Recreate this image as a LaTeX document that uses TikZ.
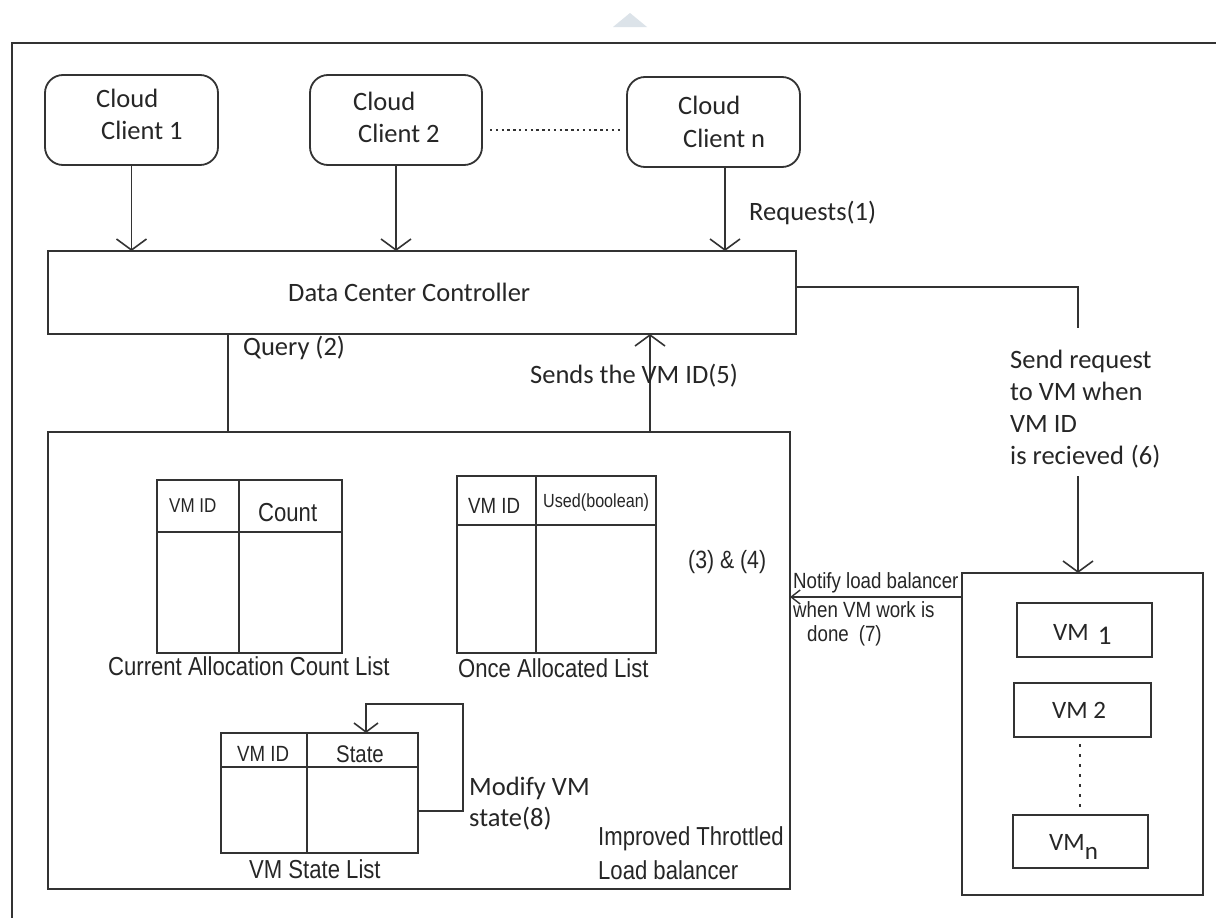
\documentclass[tikz,border=0pt]{standalone}
\usepackage{fontspec}
\setmainfont{Carlito}
\newfontfamily\arn[FakeStretch=0.85]{Liberation Sans}
\usetikzlibrary{arrows.meta,calc}
\definecolor{trigray}{RGB}{220,227,233}
\newcommand\bnode[6]{\node[#6,minimum width={#4-#2},minimum height={#5-#3}] (#1) at ({(#2+#4)/2},{(#3+#5)/2}) {};}
\begin{document}
\begin{tikzpicture}[x=1pt,y=-1pt,
 ln/.style={draw=black!80,line width=1.8pt},
 bx/.style={ln,rectangle,inner sep=0pt,outer sep=0pt,fill=white},
 cbox/.style={bx,rounded corners=18pt},
 arr/.style={ln,-{Straight Barb[width=30pt,length=11pt,line width=1.6pt]}},
 arrsm/.style={ln,-{Straight Barb[width=24pt,length=9pt,line width=1.6pt]}},
 arrxs/.style={ln,-{Straight Barb[width=14pt,length=9pt,line width=1.4pt]}},
 dots/.style={draw=black!80,line width=2.4pt,dash pattern=on 2.4pt off 3.4pt},
 vdots/.style={draw=black!80,line width=2.6pt,dash pattern=on 2.6pt off 7.4pt},
 cal/.style={inner sep=0pt,anchor=base west,text=black!85,font=\fontsize{26.5}{31}\selectfont},
 calv/.style={inner sep=0pt,anchor=base west,text=black!85,font=\fontsize{25}{30}\selectfont},
 ari/.style={inner sep=0pt,anchor=base west,text=black!85,font=\arn\fontsize{#1}{#1}\selectfont}
]
\useasboundingbox[fill=white] (0,0) rectangle (1216,918);
% top marker and outer frame
\fill[trigray] (613,27) -- (630,13) -- (647,27) -- cycle;
\draw[ln] (12,918) -- (12,43) -- (1216,43);

% clients
\bnode{c1}{45}{75}{218}{165}{cbox}
\bnode{c2}{310}{75}{482}{165}{cbox}
\bnode{cn}{627}{77}{800}{167}{cbox}
\node[cal] at (96,107) {Cloud};
\node[cal] at (101,139) {Client 1};
\node[cal] at (353,110) {Cloud};
\node[cal] at (358,142) {Client 2};
\node[cal] at (678,114) {Cloud};
\node[cal] at (683,147) {Client n};
\coordinate (dl) at (490,130);
\coordinate (dr) at (623,130);
\draw[dots] (c2.east |- dl) ++(8,0) -- (dr);

% data center controller
\bnode{dcc}{48}{251}{796}{334}{bx}
\node[cal] at (288,301) {Data Center Controller};
\coordinate (cnx) at (725,0);
\draw[arr] (c1.south) -- (c1.south |- dcc.north);
\draw[arr] (c2.south) -- (c2.south |- dcc.north);
\draw[arr] (cn.south -| cnx) -- (dcc.north -| cnx);
\node[cal] at (749,220) {Requests(1)};

% load balancer
\bnode{lb}{48}{432}{790}{889}{bx}
\coordinate (qx) at (228,0);
\coordinate (sx) at (650,0);
\draw[ln] (dcc.south -| qx) -- (lb.north -| qx);
\draw[arr] (lb.north -| sx) -- (dcc.south -| sx);
\node[cal] at (243,355) {Query (2)};
\node[cal] at (530,383) {Sends the VM ID(5)};

% table 1
\bnode{t1}{157}{480}{342}{653}{bx}
\draw[ln] (t1.west |- 0,532) -- (t1.east |- 0,532);
\draw[ln] (239,0 |- t1.north) -- (239,0 |- t1.south);
\node[ari=20] at (169,512) {VM ID};
\node[ari=26] at (258,521) {Count};
\node[ari=26] at (108,675) {Current Allocation Count List};

% table 2
\bnode{t2}{457}{476}{656}{653}{bx}
\draw[ln] (t2.west |- 0,525) -- (t2.east |- 0,525);
\draw[ln] (536,0 |- t2.north) -- (536,0 |- t2.south);
\node[ari=22] at (468,513) {VM ID};
\node[ari=19] at (543,507) {Used(boolean)};
\node[ari=26] at (458,677) {Once Allocated List};
\node[ari=25] at (688,568) {(3) \& (4)};

% table 3
\bnode{t3}{221}{733}{418}{853}{bx}
\draw[ln] (t3.west |- 0,767) -- (t3.east |- 0,767);
\draw[ln] (307,0 |- t3.north) -- (307,0 |- t3.south);
\node[ari=22] at (237,761) {VM ID};
\node[ari=24] at (336,762) {State};
\node[ari=26] at (249,878) {VM State List};
\coordinate (ly) at (0,811);
\coordinate (lc1) at (463,811);
\coordinate (lc2) at (463,704);
\coordinate (lc3) at (366,704);
\draw[arrsm] (t3.east |- ly) -- (lc1) -- (lc2) -- (lc3) -- (lc3 |- t3.north);
\node[cal] at (469,795) {Modify VM};
\node[cal] at (469,826) {state(8)};
\node[ari=26] at (598,845) {Improved Throttled};
\node[ari=26] at (598,879) {Load balancer};

% VM pool
\bnode{vmbox}{962}{573}{1203}{895}{bx}
\bnode{vm1}{1017}{603}{1152}{657}{bx}
\bnode{vm2}{1014}{683}{1151}{737}{bx}
\bnode{vmn}{1013}{815}{1148}{868}{bx}
\node[calv] at (1053,640) {VM\hspace{9pt}\raisebox{-4pt}{\fontsize{27}{30}\selectfont 1}};
\node[calv] at (1052,718) {VM 2};
\node[calv] at (1049,850) {VM\raisebox{-9pt}{n}};
\coordinate (vdt) at (1080,744);
\coordinate (vdb) at (1080,810);
\draw[vdots] (vdt) -- (vdb);

% request to VM
\coordinate (r1) at (1078,328);
\coordinate (r2) at (1078,476);
\draw[ln] (dcc.east |- 0,287) -| (r1);
\draw[arr] (r2) -- (r2 |- vmbox.north);
\node[cal] at (1010,368) {Send request};
\node[cal] at (1010,400) {to VM when};
\node[cal] at (1010,432) {VM ID};
\node[cal] at (1010,464) {is recieved\hspace{7pt}(6)};

% notify
\coordinate (ny) at (0,597);
\draw[arrxs] (vmbox.west |- ny) -- (lb.east |- ny);
\node[ari=22] at (793,588) {Notify load balancer};
\node[ari=22] at (793,617) {when VM work is};
\node[ari=22] at (807,641) {done\hspace{10pt}(7)};
\end{tikzpicture}
\end{document}
